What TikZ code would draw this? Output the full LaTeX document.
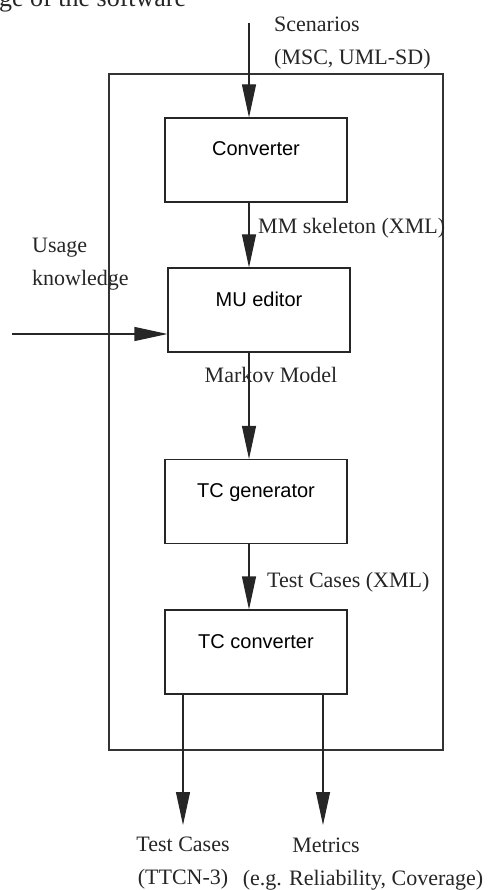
\documentclass[tikz,border=0pt]{standalone}
\usepackage{fontspec}
\setmainfont{Liberation Serif}
\newfontfamily\boxfont{Liberation Sans}
\usetikzlibrary{arrows.meta}

\tikzset{
  unit/.style={draw=black!85, line width=1.1pt, inner sep=0pt,
    minimum width=182pt, text height=38pt, text depth=46pt,
    font=\boxfont\fontsize{20}{24}\selectfont},
  flow/.style={draw=black!85, line width=1.1pt,
    -{Triangle[length=33pt,width=14pt]}},
  frame/.style={draw=black!80, line width=1.1pt},
  lbl/.style={inner sep=0pt, font=\fontsize{22}{33}\selectfont, text=black!85},
}

\begin{document}
\begin{tikzpicture}[x=1pt,y=-1pt]
  \useasboundingbox (0,0) rectangle (488,890);

  % running text of the page above the figure
  \node[inner sep=0pt, anchor=base west, font=\fontsize{26}{30}\selectfont, text=black!85]
    (pagetext) at (-1,7) {ge of the software};

  % enclosing tool boundary
  \draw[frame] (109,74) rectangle (443,750);

  % processing units
  \node[unit] (conv) at (256,160) {Converter};
  \node[unit] (mu)   at (259,310) {MU editor};
  \node[unit] (gen)  at (256,501.5) {TC generator};
  \node[unit] (tcc)  at (256,652) {TC converter};

  % vertical data-flow axis and free ends
  \coordinate (axis) at (249,0);
  \coordinate (scenin) at (249,23);
  \coordinate (usagein) at (12,334);
  \coordinate (outL) at (183,0);
  \coordinate (outR) at (323,0);

  % labels
  \node[lbl, anchor=north west, align=left] (scen) at (274,17) {Scenarios\\(MSC, UML-SD)};
  \node[lbl, anchor=base west] (mmlbl) at (258,234) {MM skeleton (XML)};
  \node[lbl, anchor=north west, align=left] (usage) at (32,238) {Usage\\knowledge};
  \node[lbl, anchor=base] (markov) at (271,382) {Markov Model};
  \node[lbl, anchor=base west] (tclbl) at (267,587) {Test Cases (XML)};
  \node[lbl, anchor=north, align=center] (tcout) at (183,837) {Test Cases\\(TTCN-3)};
  \node[lbl, anchor=base] (metrics) at (326,852) {Metrics};
  \node[lbl, anchor=base] (metricsnote) at (363,885) {(e.g. Reliability, Coverage)};

  % connectors
  \draw[flow] (scenin) -- (conv.north -| axis);
  \draw[flow] (conv.south -| axis) -- (mu.north -| axis);
  \draw[flow] (usagein) -- (mu.west |- usagein);
  \draw[flow] (mu.south -| axis) -- (gen.north -| axis);
  \draw[flow] (gen.south -| axis) -- (tcc.north -| axis);
  \draw[flow] (tcc.south -| outL) -- ([yshift=12pt]tcout.north);
  \draw[flow] (tcc.south -| outR) -- ([yshift=27pt]metrics.base -| outR);
\end{tikzpicture}
\end{document}
